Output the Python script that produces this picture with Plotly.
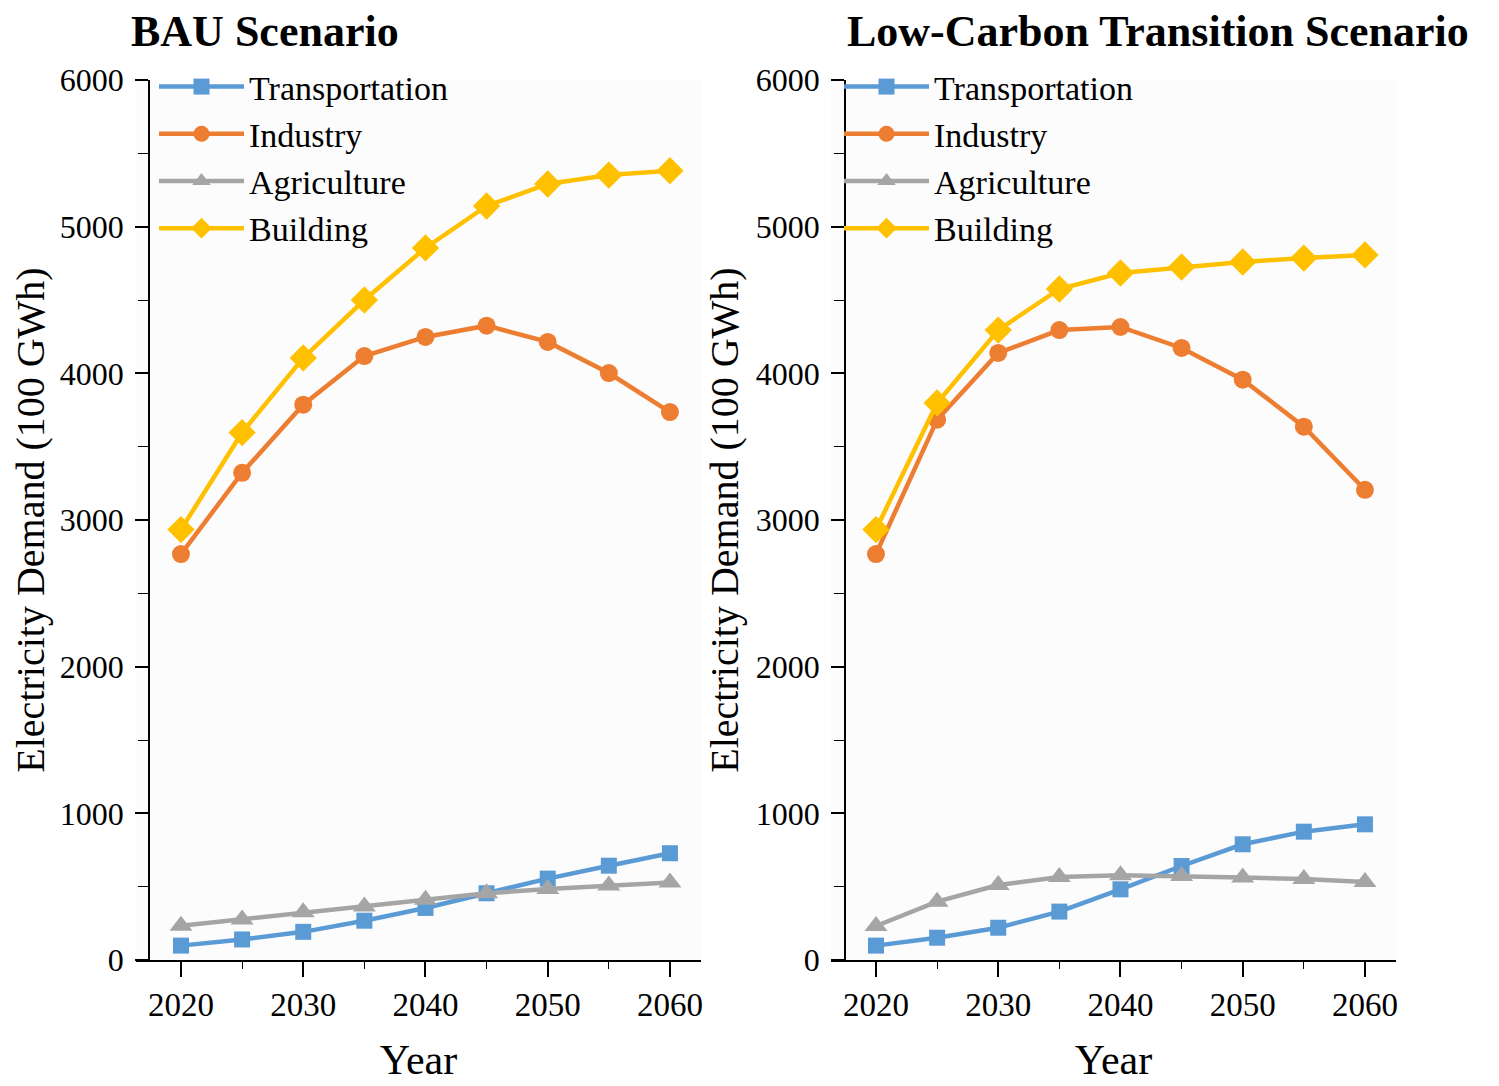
import plotly.graph_objects as go
from plotly.subplots import make_subplots

# 年份
years = [2020, 2025, 2030, 2035, 2040, 2045, 2050, 2055, 2060]
sectors = ["Transportation", "Industry", "Agriculture", "Building"]

# BAU scenario (100 GWh)
bau_transport = [98, 140, 192, 268, 355, 455, 555, 643, 728]
bau_industry = [2768, 3322, 3786, 4118, 4248, 4325, 4214, 4002, 3736]
bau_agriculture = [233, 276, 325, 365, 410, 455, 484, 508, 528]
bau_building = [2935, 3596, 4105, 4500, 4855, 5141, 5291, 5352, 5382]

# Low-carbon transition scenario (100 GWh)
lc_transport = [98, 152, 220, 330, 482, 641, 789, 875, 925]
lc_industry = [2768, 3684, 4139, 4295, 4316, 4173, 3957, 3636, 3206]
lc_agriculture = [232, 398, 511, 566, 578, 573, 562, 552, 532]
lc_building = [2935, 3798, 4295, 4575, 4684, 4725, 4759, 4786, 4807]

colors = ["#5B9BD5", "#ED7D31", "#A5A5A5", "#FFC000"]
symbols = ["square", "circle", "triangle-up", "diamond"]
msizes = [16, 18, 20, 21]

FONT = "Liberation Serif, Times New Roman, serif"
W, H = 1499, 1086
OFF = 8  # page body margin


def fx(x):
    return (x - OFF) / W


def fy(y):
    return 1 - (y - OFF) / H


fig = make_subplots(rows=1, cols=2)

panels = [
    (1, [bau_transport, bau_industry, bau_agriculture, bau_building], "legend"),
    (2, [lc_transport, lc_industry, lc_agriculture, lc_building], "legend2"),
]
for col, series, leg in panels:
    for name, vals, c, s, ms in zip(sectors, series, colors, symbols, msizes):
        fig.add_trace(
            go.Scatter(
                x=years, y=vals, name=name, mode="lines+markers",
                line=dict(color=c, width=4.5),
                marker=dict(symbol=s, size=ms, color=c),
                legend=leg,
            ),
            row=1, col=col,
        )

# panel geometry (reference pixels): x-axis line start/end, y-axis line x
xlines = [(136, 701, 149), (831, 1396, 845)]
ydom = [fy(960), fy(80)]

for i, col in enumerate([1, 2]):
    x0, x1, yx = xlines[i]
    fig.update_xaxes(
        domain=[fx(x0), fx(x1)], range=[2016.32, 2062.54],
        tickvals=[2020, 2030, 2040, 2050, 2060],
        ticks="outside", ticklen=15, tickwidth=1.5, tickcolor="black",
        minor=dict(tickvals=[2025, 2035, 2045, 2055], ticks="outside",
                   ticklen=7, tickcolor="black", tickwidth=1.2),
        showline=True, linecolor="black", linewidth=1.5,
        showgrid=False, zeroline=False, automargin=False,
        tickfont=dict(family=FONT, size=33, color="black"),
        title=dict(text="Year", font=dict(family=FONT, size=42, color="black"),
                   standoff=22),
        row=1, col=col,
    )
    fig.update_yaxes(
        domain=ydom, range=[0, 6000], anchor="free", position=fx(yx),
        tickvals=[0, 1000, 2000, 3000, 4000, 5000, 6000],
        ticks="outside", ticklen=13, tickwidth=1.5, tickcolor="black",
        ticklabelstandoff=5,
        minor=dict(tickvals=[500, 1500, 2500, 3500, 4500, 5500], ticks="outside",
                   ticklen=10, tickcolor="black", tickwidth=1.2),
        showline=True, linecolor="black", linewidth=1.5,
        showgrid=False, zeroline=False, automargin=False,
        tickfont=dict(family=FONT, size=32, color="black"),
        title=dict(text="Electricity Demand (100 GWh)",
                   font=dict(family=FONT, size=40, color="black"), standoff=4),
        row=1, col=col,
    )

legfont = dict(family=FONT, size=34, color="black")
fig.update_layout(
    width=W, height=H,
    margin=dict(l=0, r=0, t=0, b=0),
    paper_bgcolor="white", plot_bgcolor="#FCFCFC",
    showlegend=True,
    legend=dict(x=fx(154), y=fy(58), xanchor="left", yanchor="top",
                bgcolor="rgba(0,0,0,0)", font=legfont, itemwidth=85,
                tracegroupgap=0),
    legend2=dict(x=fx(839), y=fy(58), xanchor="left", yanchor="top",
                 bgcolor="rgba(0,0,0,0)", font=legfont, itemwidth=85,
                 tracegroupgap=0),
    annotations=[
        dict(text="<b>BAU Scenario</b>", x=fx(265), y=fy(32),
             xref="paper", yref="paper", xanchor="center", yanchor="middle",
             showarrow=False, font=dict(family=FONT, size=44, color="black")),
        dict(text="<b>Low-Carbon Transition Scenario</b>", x=fx(1158),
             y=fy(32), xref="paper", yref="paper", xanchor="center",
             yanchor="middle", showarrow=False,
             font=dict(family=FONT, size=44, color="black")),
    ],
)

fig.write_html("out.html")
